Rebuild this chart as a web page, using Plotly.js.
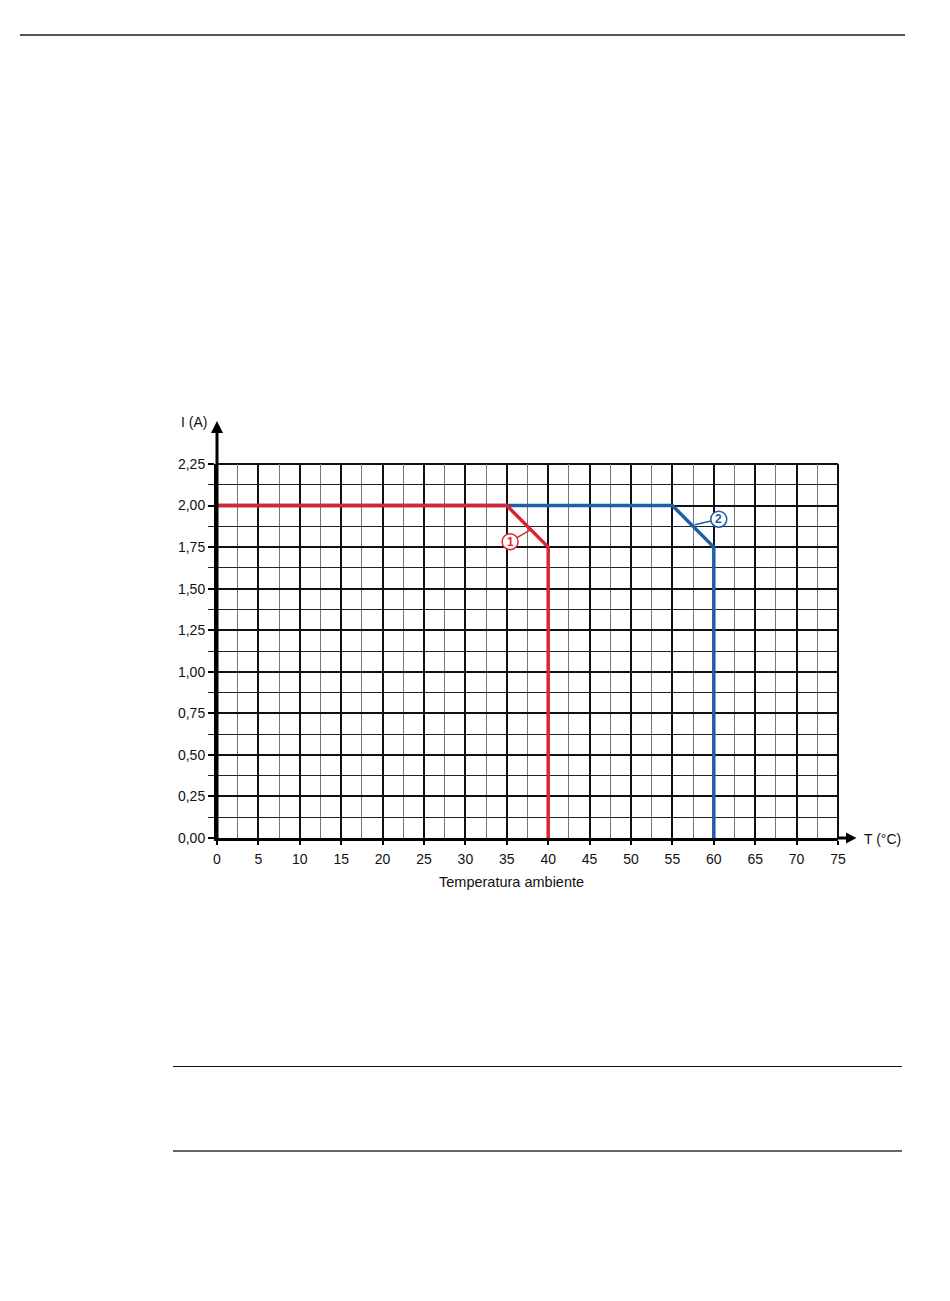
<!DOCTYPE html>
<html>
<head>
<meta charset="utf-8">
<script src="https://cdn.plot.ly/plotly-3.0.1.min.js"></script>
<style>
html,body{margin:0;padding:0;background:#fff;}
#chart{position:absolute;left:0;top:0;width:950px;height:1301px;}
.rule{position:absolute;height:0;}
</style>
</head>
<body>
<div id="chart"></div>
<div class="rule" style="left:20px;top:34px;width:885px;border-top:2px solid #555;"></div>
<div class="rule" style="left:173px;top:1066px;width:729px;border-top:1.5px solid #111;"></div>
<div class="rule" style="left:173px;top:1150px;width:729px;border-top:2px solid #666;"></div>
<script>
// Data
const tempRed = [0, 35, 40, 40];
const currRed = [2.00, 2.00, 1.75, 0.00];
const tempBlue = [0, 55, 60, 60];
const currBlue = [2.00, 2.00, 1.75, 0.00];
const xTicks = [0,5,10,15,20,25,30,35,40,45,50,55,60,65,70,75];
const yTicks = [0,0.25,0.5,0.75,1,1.25,1.5,1.75,2,2.25];
const yTickLabels = ["0,00","0,25","0,50","0,75","1,00","1,25","1,50","1,75","2,00","2,25"];
// callouts: label, circle centre (x,y), target on curve (x,y)
const calloutLabels = ["1","2"];
const calloutCx = [35.4, 60.6];
const calloutCy = [1.783, 1.918];
const calloutTx = [37.9, 57.7];
const calloutTy = [1.855, 1.885];
const RED = '#dc2430';
const BLUE = '#1f5ea8';
const calloutColors = [RED, BLUE];
const FONT = 'Liberation Sans, Arial, sans-serif';

const traces = [
  {x: tempBlue, y: currBlue, mode:'lines', line:{color:BLUE, width:3.5}, hoverinfo:'skip', showlegend:false},
  {x: tempRed, y: currRed, mode:'lines', line:{color:RED, width:3.5}, hoverinfo:'skip', showlegend:false}
];

const shapes = [];
const annotations = [];
// frame lines at top (2.25) and right (75)
shapes.push({type:'line', xref:'paper', yref:'paper', x0:0, x1:1, y0:1, y1:1, line:{color:'#111', width:2}, layer:'below'});
shapes.push({type:'line', xref:'paper', yref:'paper', x0:1, x1:1, y0:0, y1:1, line:{color:'#111', width:2}, layer:'below'});
// axis arrows (paper coords)
shapes.push({type:'line', xref:'paper', yref:'paper', x0:0, x1:0, y0:0, y1:1.086, line:{color:'#000', width:3}});
shapes.push({type:'path', xref:'paper', yref:'paper', path:'M -0.0097,1.083 L 0.0097,1.083 L 0,1.115 Z', fillcolor:'#000', line:{color:'#000', width:0}});
shapes.push({type:'line', xref:'paper', yref:'paper', x0:1, x1:1.015, y0:0, y1:0, line:{color:'#000', width:3}});
shapes.push({type:'path', xref:'paper', yref:'paper', path:'M 1.0129,0.0147 L 1.0129,-0.0147 L 1.0298,0 Z', fillcolor:'#000', line:{color:'#000', width:0}});

for (let i = 0; i < calloutLabels.length; i++) {
  shapes.push({type:'line', xref:'x', yref:'y', x0:calloutCx[i], y0:calloutCy[i], x1:calloutTx[i], y1:calloutTy[i], line:{color:calloutColors[i], width:1.5}});
}
for (let i = 0; i < calloutLabels.length; i++) {
  shapes.push({type:'circle', xref:'x', yref:'y', xsizemode:'pixel', ysizemode:'pixel', xanchor:calloutCx[i], yanchor:calloutCy[i], x0:-8, x1:8, y0:-8, y1:8, fillcolor:'#fff', line:{color:calloutColors[i], width:1.5}});
  annotations.push({x:calloutCx[i], y:calloutCy[i], xref:'x', yref:'y', text:'<b>'+calloutLabels[i]+'</b>', showarrow:false, font:{family:FONT, size:12, color:calloutColors[i]}, xanchor:'center', yanchor:'middle'});
}

annotations.push({xref:'paper', yref:'paper', x:-0.037, y:1.112, text:'I (A)', showarrow:false, xanchor:'center', yanchor:'middle', font:{family:FONT, size:14, color:'#111'}});
annotations.push({xref:'paper', yref:'paper', x:1.039, y:-0.004, text:'T (°C)', showarrow:false, xanchor:'left', yanchor:'middle', font:{family:FONT, size:14, color:'#111'}});
annotations.push({xref:'paper', yref:'paper', x:0.475, y:-0.118, text:'Temperatura ambiente', showarrow:false, xanchor:'center', yanchor:'middle', font:{family:FONT, size:14.5, color:'#111'}});

const layout = {
  width:950, height:1301,
  margin:{l:217, r:112, t:464, b:463, pad:0},
  paper_bgcolor:'#fff', plot_bgcolor:'#fff',
  showlegend:false,
  xaxis:{
    range:[0,75], tickmode:'array', tickvals:xTicks, ticktext:xTicks.map(String),
    showgrid:true, gridcolor:'#111', gridwidth:2,
    minor:{dtick:2.5, tick0:0, showgrid:true, gridcolor:'#777', gridwidth:1, ticks:''},
    ticks:'outside', ticklen:4, tickwidth:2, tickcolor:'#000',
    ticklabelstandoff:2,
    showline:true, linecolor:'#000', linewidth:3, zeroline:false,
    tickfont:{family:FONT, size:14, color:'#111'},
    fixedrange:true
  },
  yaxis:{
    range:[0,2.25], tickmode:'array', tickvals:yTicks, ticktext:yTickLabels,
    showgrid:true, gridcolor:'#111', gridwidth:2,
    minor:{dtick:0.125, tick0:0, showgrid:true, gridcolor:'#222', gridwidth:1, ticks:'outside', ticklen:6, tickwidth:1, tickcolor:'#222'},
    ticks:'outside', ticklen:6, tickwidth:2, tickcolor:'#000',
    showline:true, linecolor:'#000', linewidth:3, zeroline:false,
    tickfont:{family:FONT, size:14, color:'#111'},
    fixedrange:true
  },
  shapes:shapes,
  annotations:annotations
};

Plotly.newPlot('chart', traces, layout, {staticPlot:true, displayModeBar:false});
</script>
</body>
</html>
